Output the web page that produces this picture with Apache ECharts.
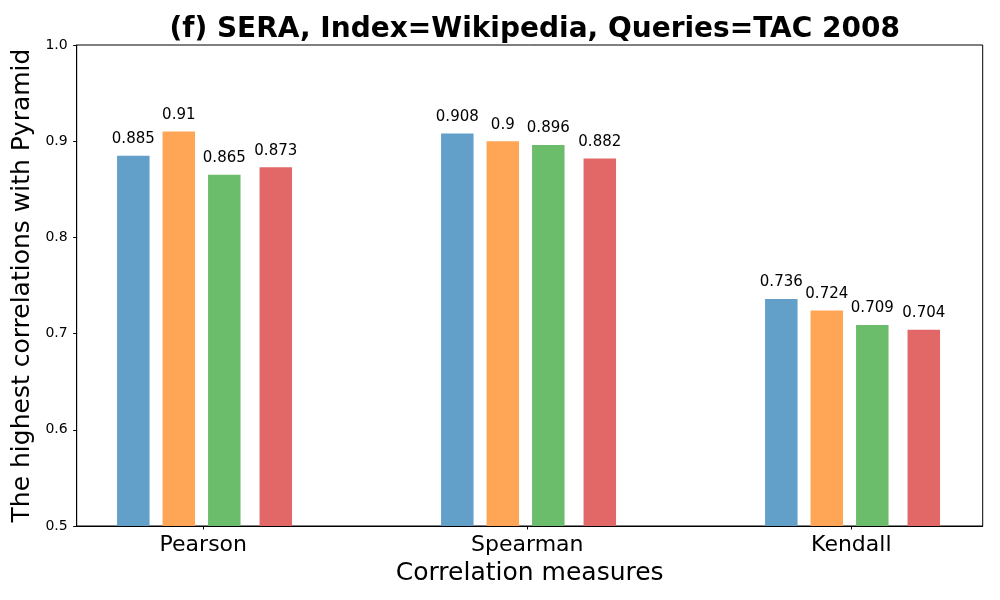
<!DOCTYPE html>
<html><head><meta charset="utf-8">
<script src="https://cdn.jsdelivr.net/npm/echarts@6/dist/echarts.min.js"></script>
<style>html,body{margin:0;padding:0;background:#fff}#c{width:1000px;height:600px}</style>
</head><body><div id="c"></div>
<script>
// ---- data ----
const categories = ['Pearson', 'Spearman', 'Kendall'];
const series1 = [0.885, 0.908, 0.736];
const series2 = [0.91, 0.9, 0.724];
const series3 = [0.865, 0.896, 0.709];
const series4 = [0.873, 0.882, 0.704];
const seriesNames = ['Series 1', 'Series 2', 'Series 3', 'Series 4'];
const yTicks = [0.5, 0.6, 0.7, 0.8, 0.9, 1.0];
const titleText = '(f) SERA, Index=Wikipedia, Queries=TAC 2008';
const xName = 'Correlation measures';
const yName = 'The highest correlations with Pyramid';

// ---- layout / style ----
const FONT = 'DejaVu Sans';
const FRAME = { left: 76.7, top: 45, width: 906, height: 481 };
const PX_PER_CAT = 324;          // pixel distance between category centres
const FIRST_CAT_PX = 126.6;      // first category centre, from frame left
const offsets = [-70, -24.5, 21, 72.5];   // bar centre offsets (px) within a group
const colors = ['#62a0ca', '#ffa556', '#6bbc6b', '#e26868'];
const allSeries = [series1, series2, series3, series4];
const yMin = yTicks[0], yMax = yTicks[yTicks.length - 1], yStep = 0.1;

function xRange(offsetPx) {
  const min = -(FIRST_CAT_PX + offsetPx) / PX_PER_CAT;
  return { min: min, max: min + FRAME.width / PX_PER_CAT };
}
const catIdx = categories.map((c, j) => j);

const r0 = xRange(0);
const xAxes = [
  { gridIndex: 0, type: 'value', min: r0.min, max: r0.max,
    axisLine: { show: true, onZero: false, lineStyle: { color: '#000', width: 1 } },
    axisTick: { show: true, length: 3.5, customValues: catIdx, lineStyle: { color: '#000', width: 1 } },
    axisLabel: { show: true, customValues: catIdx, fontFamily: FONT, fontSize: 22, color: '#000', margin: 8,
      formatter: v => categories[Math.round(v)] },
    splitLine: { show: false },
    name: xName, nameLocation: 'middle', nameGap: 34,
    nameTextStyle: { fontFamily: FONT, fontSize: 25, color: '#000' } }
];
const yAxes = [
  { gridIndex: 0, type: 'value', min: yMin, max: yMax, interval: yStep,
    axisLine: { show: true, onZero: false, lineStyle: { color: '#000', width: 1 } },
    axisTick: { show: true, length: 3.5, lineStyle: { color: '#000', width: 1 } },
    axisLabel: { fontFamily: FONT, fontSize: 14, color: '#000', margin: 9,
      formatter: v => v.toFixed(1) },
    splitLine: { show: false },
    name: yName, nameLocation: 'middle', nameGap: 34, nameRotate: 90,
    nameTextStyle: { fontFamily: FONT, fontSize: 25, color: '#000' } }
];
const series = [];
allSeries.forEach((vals, i) => {
  const r = xRange(offsets[i]);
  xAxes.push({ gridIndex: 0, type: 'value', min: r.min, max: r.max, show: false, splitLine: { show: false } });
  series.push({
    type: 'bar', name: seriesNames[i], xAxisIndex: 1 + i, yAxisIndex: 0,
    data: vals.map((v, j) => [catIdx[j], v]), barWidth: 32.5,
    itemStyle: { color: colors[i] },
    label: { show: true, position: 'top', distance: 9, fontFamily: FONT, fontSize: 15, color: '#000',
      formatter: p => String(p.value[1]) }
  });
});

const chart = echarts.init(document.getElementById('c'), null, { renderer: 'canvas' });
chart.setOption({
  animation: false,
  backgroundColor: '#fff',
  textStyle: { fontFamily: FONT },
  title: { text: titleText, left: FRAME.left + FRAME.width / 2, textAlign: 'center', top: 11,
    textStyle: { fontFamily: FONT, fontSize: 28, fontWeight: 'bold', color: '#000' } },
  grid: [{ left: FRAME.left, top: FRAME.top, width: FRAME.width, height: FRAME.height,
    show: true, borderColor: '#000', borderWidth: 1, backgroundColor: 'transparent' }],
  xAxis: xAxes, yAxis: yAxes, series: series
});
</script></body></html>
